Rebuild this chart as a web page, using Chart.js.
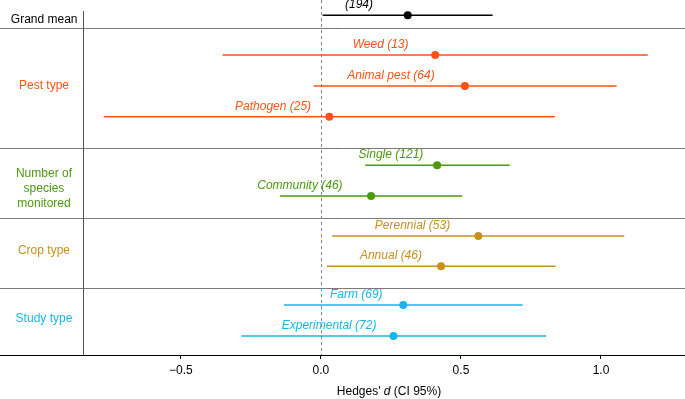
<!DOCTYPE html>
<html><head><meta charset="utf-8">
<script src="https://cdn.jsdelivr.net/npm/chart.js@4"></script>
<style>html,body{margin:0;padding:0;background:#fff}#wrap{width:685px;height:399px}</style>
</head><body><div id="wrap"><canvas id="c" width="685" height="399"></canvas></div>
<script>
// ---- data ----
const rowNames  = ['', 'Weed', 'Animal pest', 'Pathogen', 'Single', 'Community', 'Perennial', 'Annual', 'Farm', 'Experimental'];
const rowCounts = [194, 13, 64, 25, 121, 46, 53, 46, 69, 72];
const rowGroup  = [0, 1, 1, 1, 2, 2, 3, 3, 4, 4];
const means = [0.310, 0.408, 0.514, 0.030, 0.415, 0.179, 0.562, 0.429, 0.294, 0.259];
const lower = [0.006, -0.351, -0.026, -0.775, 0.158, -0.146, 0.040, 0.021, -0.132, -0.284];
const upper = [0.613, 1.167, 1.056, 0.835, 0.674, 0.504, 1.083, 0.838, 0.720, 0.804];
const groupNames = [['Grand mean'], ['Pest type'], ['Number of', 'species', 'monitored'], ['Crop type'], ['Study type']];
const xTicks = [-0.5, 0, 0.5, 1.0];
const axisTitle = ["Hedges' ", 'd', ' (CI 95%)'];

// ---- layout / style ----
const groupColors = ['#000000', '#ff5216', '#4b9a0e', '#c8901c', '#18b6ec'];
const rowY   = [15.3, 55, 86, 116.7, 165.3, 196, 236, 266.3, 305, 336];
const labelX = [0.136, 0.213, 0.25, -0.171, 0.25, -0.075, 0.327, 0.25, 0.126, 0.029];
const sepY   = [28.3, 147.5, 218.3, 288];
const groupLabelY = [[20], [86], [174, 189, 203.3], [250.7], [319]];
const groupLabelX = -0.989;
const dividerX = -0.85;
const FONT = "'Liberation Sans', Arial, Helvetica, sans-serif";

const datasets = [];
means.forEach((m, i) => {
  datasets.push({
    type: 'line',
    data: [{x: lower[i], y: rowY[i]}, {x: upper[i], y: rowY[i]}],
    borderColor: groupColors[rowGroup[i]],
    borderWidth: 1.6,
    pointRadius: 0,
    clip: false
  });
});
datasets.push({
  type: 'scatter',
  data: means.map((m, i) => ({x: m, y: rowY[i]})),
  pointRadius: 4,
  pointBorderWidth: 0,
  pointBackgroundColor: rowGroup.map(g => groupColors[g]),
  clip: false
});

const deco = {
  id: 'deco',
  beforeDatasetsDraw(chart) {
    const {ctx, chartArea: a, scales: {x, y}} = chart;
    ctx.save();
    ctx.strokeStyle = '#7a7a7a';
    ctx.lineWidth = 1;
    sepY.forEach(v => {
      const py = Math.round(y.getPixelForValue(v)) + 0.5;
      ctx.beginPath(); ctx.moveTo(a.left, py); ctx.lineTo(a.right, py); ctx.stroke();
    });
    const dx = Math.round(x.getPixelForValue(dividerX)) + 0.5;
    ctx.strokeStyle = '#555';
    ctx.beginPath(); ctx.moveTo(dx, y.getPixelForValue(11)); ctx.lineTo(dx, a.bottom); ctx.stroke();
    const zx = Math.round(x.getPixelForValue(0)) + 0.5;
    ctx.strokeStyle = '#888';
    ctx.setLineDash([3, 3]);
    ctx.beginPath(); ctx.moveTo(zx, a.top); ctx.lineTo(zx, a.bottom); ctx.stroke();
    ctx.setLineDash([]);
    ctx.font = '12px ' + FONT;
    ctx.textBaseline = 'middle';
    groupNames.forEach((lines, g) => {
      ctx.fillStyle = groupColors[g];
      lines.forEach((t, k) => {
        const py = y.getPixelForValue(groupLabelY[g][k]);
        if (g === 0) {
          ctx.textAlign = 'right';
          ctx.fillText(t, dx - 6, py);
        } else {
          ctx.textAlign = 'center';
          ctx.fillText(t, x.getPixelForValue(groupLabelX), py);
        }
      });
    });
    ctx.restore();
  },
  afterDatasetsDraw(chart) {
    const {ctx, scales: {x, y}} = chart;
    ctx.save();
    ctx.font = 'italic 12px ' + FONT;
    ctx.textAlign = 'center';
    ctx.textBaseline = 'middle';
    rowNames.forEach((n, i) => {
      ctx.fillStyle = groupColors[rowGroup[i]];
      const t = (n ? n + ' ' : '') + '(' + rowCounts[i] + ')';
      ctx.fillText(t, x.getPixelForValue(labelX[i]), y.getPixelForValue(rowY[i]) - 10.5);
    });
    ctx.restore();
  },
  afterDraw(chart) {
    const {ctx} = chart;
    ctx.save();
    ctx.fillStyle = '#000';
    ctx.textBaseline = 'middle';
    const fonts = ['12px ' + FONT, 'italic 12px ' + FONT, '12px ' + FONT];
    let w = 0;
    const ws = axisTitle.map((t, i) => { ctx.font = fonts[i]; const m = ctx.measureText(t).width; w += m; return m; });
    let px = 389 - w / 2;
    axisTitle.forEach((t, i) => { ctx.font = fonts[i]; ctx.textAlign = 'left'; ctx.fillText(t, px, 391.5); px += ws[i]; });
    ctx.restore();
  }
};

new Chart(document.getElementById('c'), {
  type: 'scatter',
  data: {datasets},
  plugins: [deco],
  options: {
    responsive: false,
    animation: false,
    devicePixelRatio: 1,
    layout: {padding: 0, autoPadding: false},
    plugins: {legend: {display: false}, tooltip: {enabled: false}},
    scales: {
      x: {
        type: 'linear', min: -1.146, max: 1.3,
        afterBuildTicks: s => { s.ticks = xTicks.map(v => ({value: v})); },
        afterFit: s => { s.height = 44; },
        ticks: {
          callback: v => (v < 0 ? '\u2212' + Math.abs(v).toFixed(1) : v.toFixed(1)),
          font: {size: 12, family: FONT}, color: '#000', padding: 4, maxRotation: 0
        },
        grid: {drawOnChartArea: false, drawTicks: true, tickLength: 4, color: '#000'},
        border: {color: '#000', width: 1}
      },
      y: {type: 'linear', reverse: true, min: 0, max: 355, display: false}
    }
  }
});
</script>
</body></html>
